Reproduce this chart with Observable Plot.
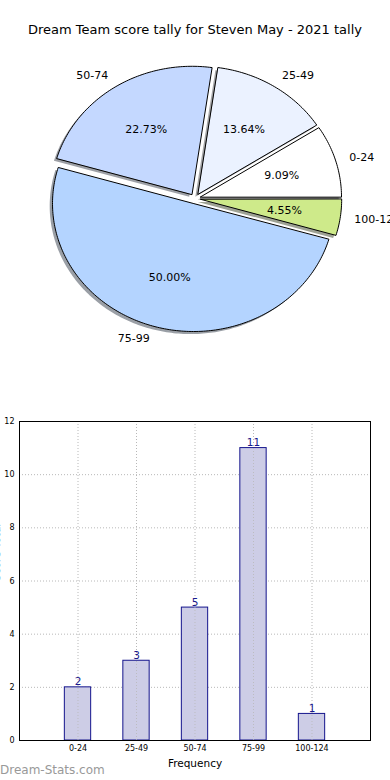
<!DOCTYPE html>
<html>
<head>
<meta charset="utf-8">
<script src="https://cdn.jsdelivr.net/npm/d3@7"></script>
<script src="https://cdn.jsdelivr.net/npm/@observablehq/plot@0.6"></script>
<style>
  html, body { margin: 0; padding: 0; background: #fff; }
  body { width: 390px; height: 780px; position: relative; overflow: hidden; font-family: "DejaVu Sans", sans-serif; }
  #title { position: absolute; left: 0; top: 22px; width: 390px; text-align: center; font-size: 13px; color: #000; line-height: 15px; }
  #pie { position: absolute; left: 0; top: 0; }
  #bar { position: absolute; left: 0; top: 400px; }
  #wm { position: absolute; left: 0; top: 763px; font-size: 12px; color: #999; line-height: 14px; }
</style>
</head>
<body>
<div id="pie"></div>
<div id="title">Dream Team score tally for Steven May - 2021 tally</div>
<div id="bar"></div>
<div id="wm">Dream-Stats.com</div>
<script>
const categories = ["0-24", "25-49", "50-74", "75-99", "100-124"];
const counts = [2, 3, 5, 11, 1];
const pieColors = ["#ffffff", "#ebf2ff", "#c4d8ff", "#b4d4ff", "#ceea8a"];
const yTicks = [0, 2, 4, 6, 8, 10, 12];
const explode = 0.04;

// ---------- PIE ----------
const total = d3.sum(counts);
let cum = 0;
const slices = categories.map((c, i) => {
  const a0 = cum / total * 2 * Math.PI;
  cum += counts[i];
  const a1 = cum / total * 2 * Math.PI;
  const mid = (a0 + a1) / 2;
  return {cat: c, value: counts[i], a0, a1, mid, color: pieColors[i],
          pct: counts[i] / total * 100,
          ox: explode * Math.cos(mid), oy: explode * Math.sin(mid)};
});

function wedge(s, dx, dy) {
  const n = Math.max(2, Math.ceil((s.a1 - s.a0) / (Math.PI / 180)));
  const pts = [{x: s.ox + dx, y: s.oy + dy}];
  for (let k = 0; k <= n; k++) {
    const t = s.a0 + (s.a1 - s.a0) * k / n;
    pts.push({x: s.ox + dx + Math.cos(t), y: s.oy + dy + Math.sin(t)});
  }
  return pts;
}

function darker(c) {
  const r = d3.rgb(c);
  return d3.rgb(r.r * 0.3, r.g * 0.3, r.b * 0.3).formatHex();
}

const cx = 194.6, cy = 198.1, rx = 141, ry = 128;

const shadowMarks = slices.map(s => Plot.line(wedge(s, -0.02, -0.02), {
  x: "x", y: "y", fill: darker(s.color), fillOpacity: 0.5, stroke: "none", curve: "linear-closed"
}));
const wedgeMarks = slices.map(s => Plot.line(wedge(s, 0, 0), {
  x: "x", y: "y", fill: s.color, stroke: "#000", strokeWidth: 1, curve: "linear-closed"
}));

const labels = slices.map(s => ({
  x: s.ox + 1.1 * Math.cos(s.mid), y: s.oy + 1.1 * Math.sin(s.mid), text: s.cat
}));
const pcts = slices.map(s => ({
  x: s.ox + 0.6 * Math.cos(s.mid), y: s.oy + 0.6 * Math.sin(s.mid), text: s.pct.toFixed(2) + "%"
}));

const pie = Plot.plot({
  width: 390, height: 400, margin: 0,
  style: {fontFamily: "DejaVu Sans", background: "transparent", overflow: "visible"},
  x: {domain: [-1, 1], range: [cx - rx, cx + rx], axis: null},
  y: {domain: [-1, 1], range: [cy + ry, cy - ry], axis: null},
  marks: [
    ...shadowMarks,
    ...wedgeMarks,
    Plot.text(labels.filter(d => d.x > 0), {x: "x", y: "y", text: "text", textAnchor: "start", fontSize: 11, fill: "#000"}),
    Plot.text(labels.filter(d => d.x <= 0), {x: "x", y: "y", text: "text", textAnchor: "end", fontSize: 11, fill: "#000"}),
    Plot.text(pcts, {x: "x", y: "y", text: "text", fontSize: 11, fill: "#000"})
  ]
});
document.getElementById("pie").appendChild(pie);

// ---------- BAR ----------
const bars = categories.map((c, i) => ({i, cat: c, count: counts[i]}));
const idx = categories.map((c, i) => i);

const bar = Plot.plot({
  width: 390, height: 380,
  marginLeft: 19, marginRight: 20, marginTop: 21, marginBottom: 40,
  style: {fontFamily: "DejaVu Sans", background: "transparent", overflow: "visible"},
  x: {domain: [-1, 5]},
  y: {domain: [0, 12]},
  marks: [
    Plot.ruleY(yTicks.slice(1, -1), {stroke: "#b8b8b8", strokeDasharray: "1,2", strokeWidth: 1}),
    Plot.ruleX(idx, {stroke: "#b8b8b8", strokeDasharray: "1,2", strokeWidth: 1}),
    Plot.rectY(bars, {x1: d => d.i - 0.225, x2: d => d.i + 0.225, y: "count", fill: "#cdcde6", stroke: "#14148c", strokeWidth: 1}),
    Plot.ruleX(idx, {stroke: "#b8b8b8", strokeDasharray: "1,2", strokeWidth: 1, y1: 0, y2: d => counts[d], strokeOpacity: 0.8}),
    Plot.text(bars, {x: "i", y: "count", text: d => String(d.count), lineAnchor: "bottom", dy: -2, fontSize: 10.5, fill: "#1a1a8c"}),
    Plot.frame({stroke: "#000", strokeWidth: 1}),
    Plot.axisY({ticks: yTicks, tickSize: 0, tickPadding: 5, fontSize: 8, label: null, tickFormat: d => String(d), fill: "#000"}),
    Plot.axisX({ticks: idx, tickSize: 0, tickPadding: 5, fontSize: 8, label: null, tickFormat: i => categories[i], fill: "#000"}),
    Plot.text(["Frequency"], {frameAnchor: "bottom", dy: 26, fontSize: 10.5, fill: "#000"}),
    Plot.text(["Score Total"], {frameAnchor: "left", dx: -23, rotate: -90, fontSize: 10.5, fill: "#000"})
  ]
});
document.getElementById("bar").appendChild(bar);
</script>
</body>
</html>
